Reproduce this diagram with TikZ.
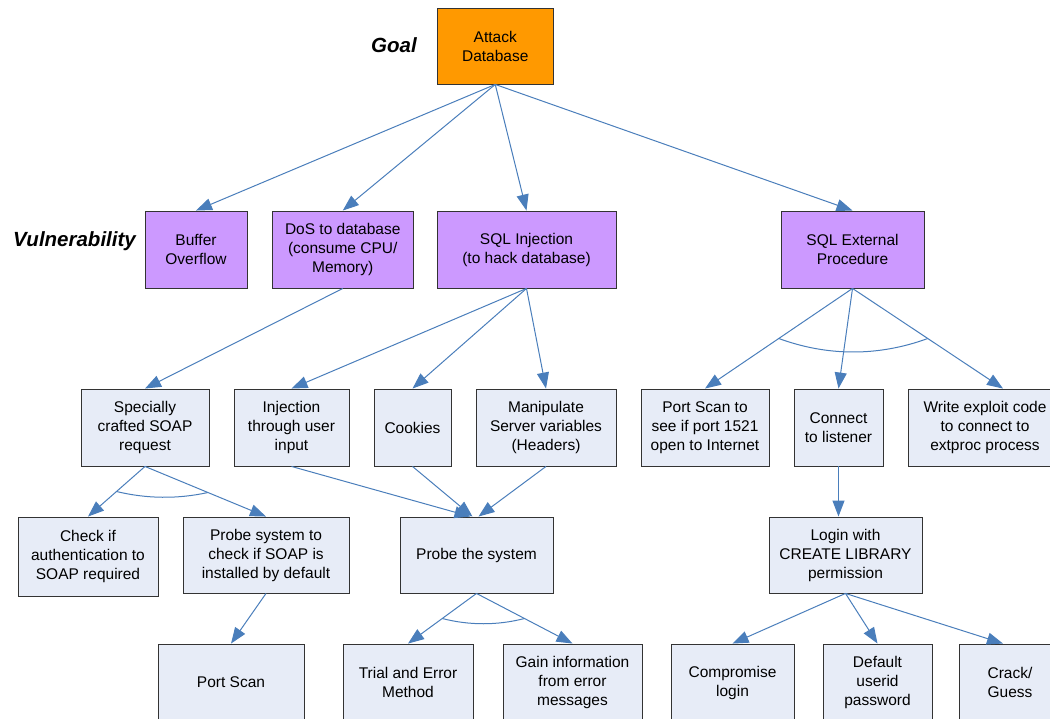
\documentclass[tikz,border=0pt]{standalone}
\usepackage{fontspec}
\setmainfont{Liberation Sans}
\usetikzlibrary{arrows.meta,calc}
\definecolor{goalfill}{RGB}{255,153,0}
\definecolor{vulnfill}{RGB}{204,153,255}
\definecolor{stepfill}{RGB}{231,236,247}
\definecolor{linkcol}{RGB}{74,126,187}
\begin{document}
\begin{tikzpicture}[x=1pt,y=-1pt,
  box/.style={draw=black!80,line width=0.9pt,inner sep=0pt,align=center,
    font=\fontsize{15.5}{19}\selectfont},
  goalbox/.style={box,fill=goalfill},
  vulnbox/.style={box,fill=vulnfill},
  leafbox/.style={box,fill=stepfill},
  tag/.style={font=\fontsize{20.5}{24}\selectfont\bfseries\itshape},
  link/.style={draw=linkcol,line width=1pt,-{Triangle[length=16pt,width=12pt]}},
  andarc/.style={draw=linkcol,line width=1pt}]
\clip (0,0) rectangle (1050,719);

% row labels
\node[tag] (goaltag) at (394,45) {Goal};
\node[tag] (vulntag) at (74.5,241.5) {Vulnerability};

% goal
\node[goalbox,minimum width=115.5,minimum height=76] (goal) at (495.25,46) {Attack\\Database};

% vulnerabilities
\node[vulnbox,minimum width=102,minimum height=77] (buffer) at (196,249.5) {Buffer\\Overflow};
\node[vulnbox,minimum width=140.5,minimum height=77] (dos) at (342.75,249.5) {DoS to database\\(consume CPU/\\Memory)};
\node[vulnbox,minimum width=179,minimum height=77] (sqlinj) at (526.5,249.5) {SQL Injection\\(to hack database)};
\node[vulnbox,minimum width=143,minimum height=77] (sqlext) at (852.5,249.5) {SQL External\\Procedure};

% third level
\node[leafbox,minimum width=128,minimum height=77] (soap) at (145,427.5) {Specially\\crafted SOAP\\request};
\node[leafbox,minimum width=115,minimum height=77] (inject) at (291.5,427.5) {Injection\\through user\\input};
\node[leafbox,minimum width=77,minimum height=77] (cookies) at (412.5,427.5) {Cookies};
\node[leafbox,minimum width=140,minimum height=77] (manip) at (546,427.5) {Manipulate\\Server variables\\(Headers)};
\node[leafbox,minimum width=128,minimum height=77] (portsee) at (705,427.5) {Port Scan to\\see if port 1521\\open to Internet};
\node[leafbox,minimum width=89,minimum height=77] (connect) at (838.5,427.5) {Connect\\to listener};
\node[leafbox,minimum width=154,minimum height=77] (write) at (985,427.5) {Write exploit code\\to connect to\\extproc process};

% fourth level
\node[leafbox,minimum width=140,minimum height=79] (check) at (88,556.5) {Check if\\authentication to\\SOAP required};
\node[leafbox,minimum width=166,minimum height=76] (probesoap) at (266,555) {Probe system to\\check if SOAP is\\installed by default};
\node[leafbox,minimum width=153,minimum height=76] (probe) at (476.5,555) {Probe the system};
\node[leafbox,minimum width=153,minimum height=76] (login) at (845.5,555) {Login with\\CREATE LIBRARY\\permission};

% fifth level
\node[leafbox,minimum width=146,minimum height=77] (portscan) at (231,682.5) {Port Scan};
\node[leafbox,minimum width=130,minimum height=77] (trial) at (408,682.5) {Trial and Error\\Method};
\node[leafbox,minimum width=139,minimum height=77] (gain) at (572.5,682.5) {Gain information\\from error\\messages};
\node[leafbox,minimum width=123,minimum height=77] (comp) at (732.5,682.5) {Compromise\\login};
\node[leafbox,minimum width=109,minimum height=77] (default) at (877.5,682.5) {Default\\userid\\password};
\node[leafbox,minimum width=102,minimum height=77] (crack) at (1010,682.5) {Crack/\\Guess};

% goal to vulnerabilities
\draw[link] (goal.south) -- (buffer.north);
\draw[link] (goal.south) -- (dos.north);
\draw[link] (goal.south) -- (sqlinj.north);
\draw[link] (goal.south) -- (sqlext.north);

% vulnerabilities to attack steps
\draw[link] (dos.south) -- (soap.north);
\draw[link] (sqlinj.south) -- (inject.north);
\draw[link] (sqlinj.south) -- (cookies.north);
\draw[link] (sqlinj.south) -- (manip.north);
\draw[link] (sqlext.south) -- (portsee.north);
\draw[link] (sqlext.south) -- (connect.north);
\draw[link] (sqlext.south) -- ([xshift=18pt]write.north);

% deeper steps
\draw[link] (soap.south) -- (check.north);
\draw[link] (soap.south) -- (probesoap.north);
\draw[link] (inject.south) -- ([xshift=-6pt]probe.north);
\draw[link] (cookies.south) -- ([xshift=-4pt]probe.north);
\draw[link] (manip.south) -- ([xshift=2pt]probe.north);
\draw[link] (connect.south) -- (connect.south |- login.north);
\draw[link] (probesoap.south) -- (portscan.north);
\draw[link] (probe.south) -- (trial.north);
\draw[link] (probe.south) -- (gain.north);
\draw[link] (login.south) -- (comp.north);
\draw[link] (login.south) -- (default.north);
\draw[link] (login.south) -- ([xshift=-7pt]crack.north);

% AND arcs
\coordinate (e1) at ($(sqlext.south)!0.5!(portsee.north)$);
\coordinate (e2) at ($(sqlext.south)!0.5!([xshift=18pt]write.north)$);
\draw[andarc] (e1) .. controls ($(e1)!0.33!(e2)+(0,18)$) and ($(e1)!0.67!(e2)+(0,18)$) .. (e2);
\coordinate (s1) at ($(soap.south)!0.5!(check.north)$);
\coordinate (s2) at ($(soap.south)!0.52!(probesoap.north)$);
\draw[andarc] (s1) .. controls ($(s1)!0.33!(s2)+(0,7)$) and ($(s1)!0.67!(s2)+(0,7)$) .. (s2);
\coordinate (p1) at ($(probe.south)!0.5!(trial.north)$);
\coordinate (p2) at ($(probe.south)!0.5!(gain.north)$);
\draw[andarc] (p1) .. controls ($(p1)!0.33!(p2)+(0,7)$) and ($(p1)!0.67!(p2)+(0,7)$) .. (p2);
\end{tikzpicture}
\end{document}
